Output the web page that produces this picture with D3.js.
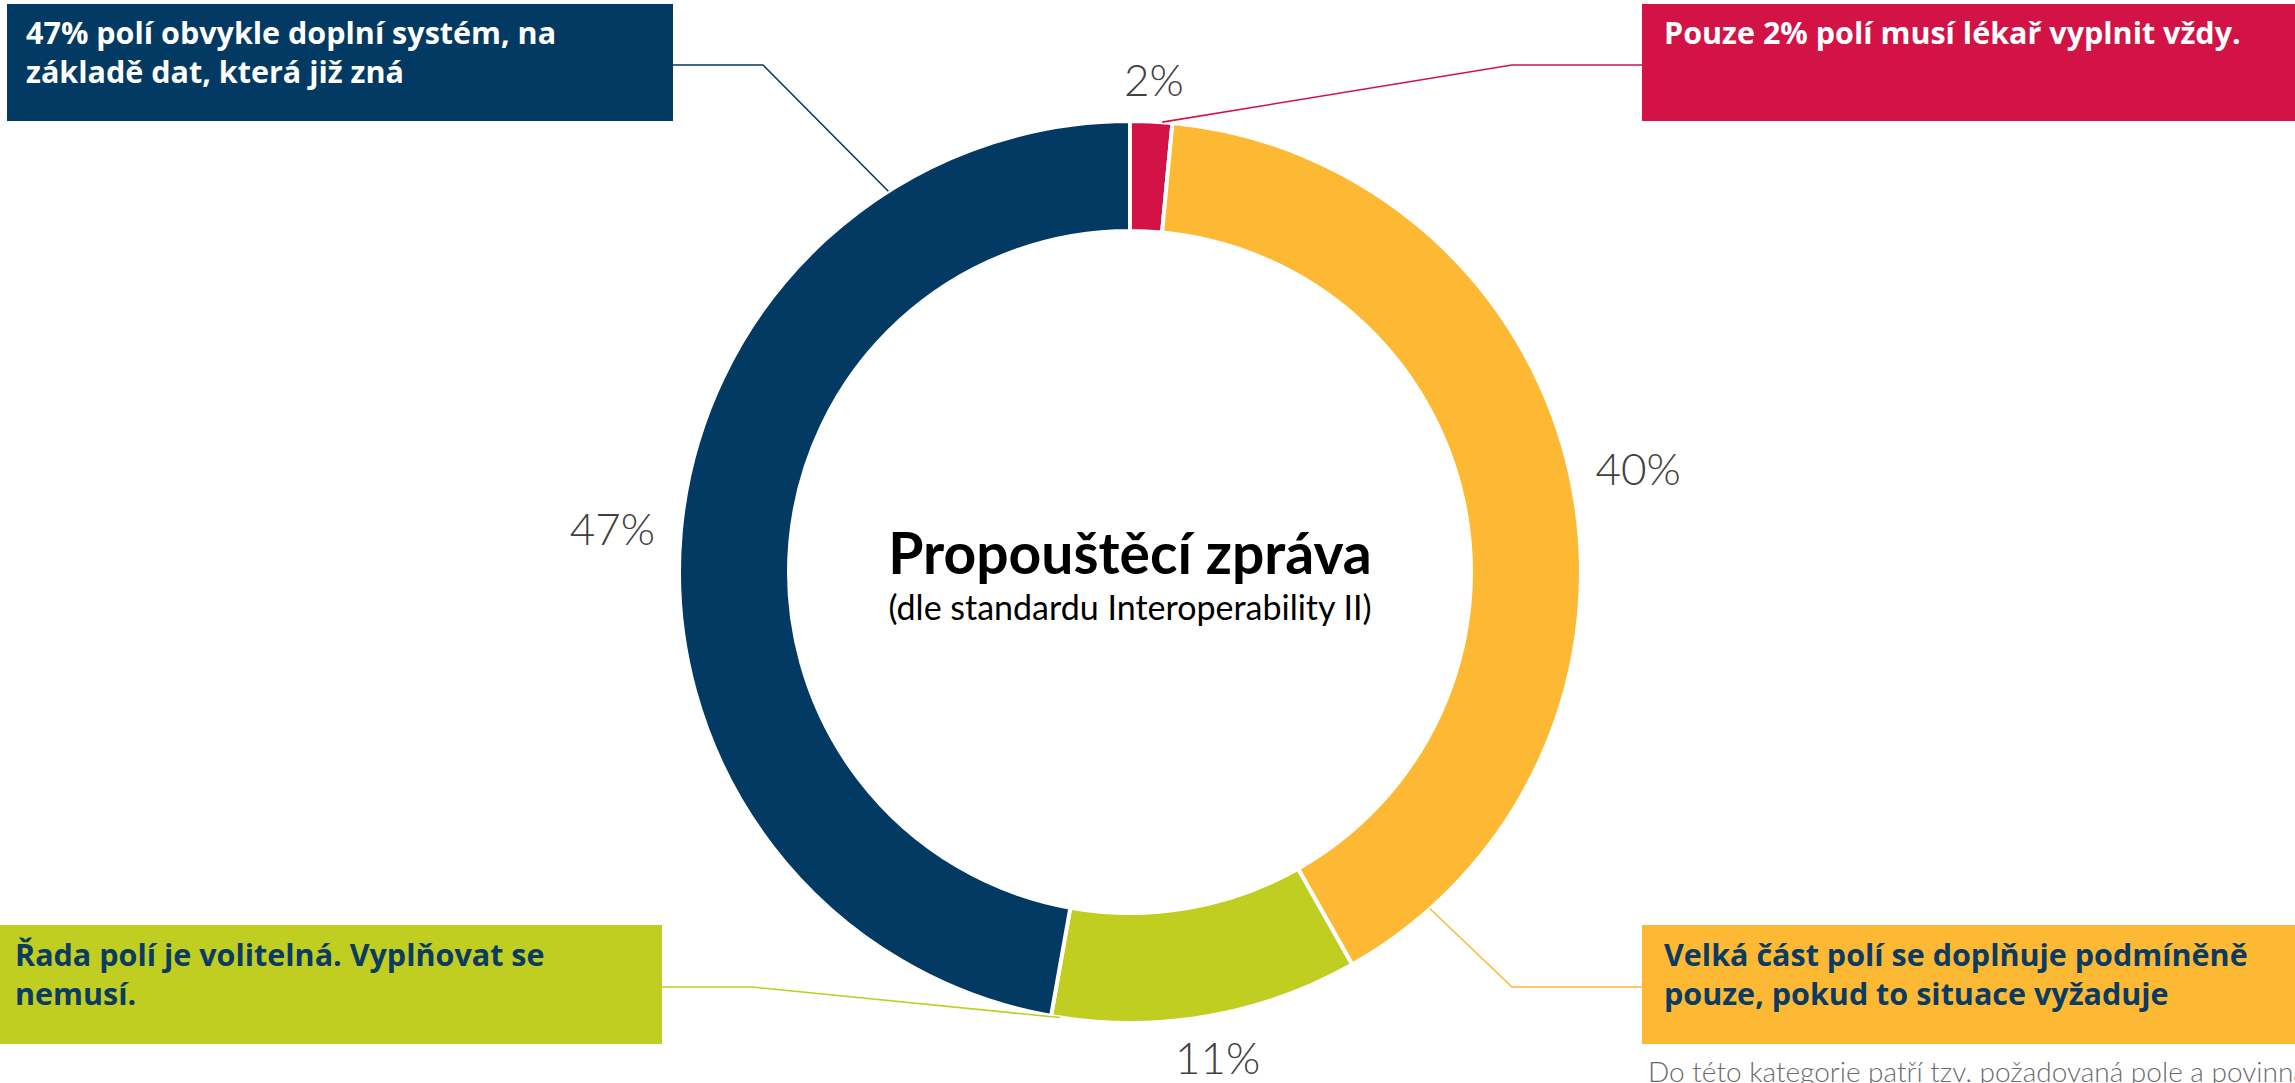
<!DOCTYPE html>
<html>
<head>
<meta charset="utf-8">
<script src="https://cdn.jsdelivr.net/npm/d3@7"></script>
<style>
    html, body { margin: 0; padding: 0; background: #fff; overflow: hidden; }
    svg { display: block; }
</style>
</head>
<body>
<div id="chart"></div>
<script>
// Data (clockwise from 12 o'clock)
const categories = ['vyplnit vždy', 'podmíněně', 'volitelná', 'doplní systém'];
const shares = [1.5, 40.3, 11.0, 47.2];
const percentLabels = ['2%', '40%', '11%', '47%'];
const sliceColors = ['#d31245', '#fdb933', '#c0ce21', '#033a63'];
const calloutTexts = [
    ['Pouze 2% polí musí lékař vyplnit vždy.'],
    ['Velká část polí se doplňuje podmíněně', 'pouze, pokud to situace vyžaduje'],
    ['Řada polí je volitelná. Vyplňovat se', 'nemusí.'],
    ['47% polí obvykle doplní systém, na', 'základě dat, která již zná']
];
const calloutTextColors = ['#ffffff', '#0b3a62', '#0b3a62', '#ffffff'];
const title = 'Propouštěcí zpráva';
const subtitle = '(dle standardu Interoperability II)';
const footnote = 'Do této kategorie patří tzv. požadovaná pole a povinná pole';

const width = 2295, height = 1083;
const cx = 1130, cy = 572;
const outerR = 451, innerR = 341;

// Callout boxes: box rect, leader line y, elbow x, anchor angle (deg) on the ring, text x, line centres
const callouts = [
    {box: [1642, 4, 653, 117], lineY: 65, elbowX: 1512, angle: 4.1, textX: 1664, lineYs: [32]},
    {box: [1642, 925, 653, 119], lineY: 987, elbowX: 1512, angle: 138.3, textX: 1664, lineYs: [954, 993]},
    {box: [0, 925, 662, 119], lineY: 987, elbowX: 752, angle: 188.9, textX: 15, lineYs: [954, 993]},
    {box: [7, 4, 666, 117], lineY: 65, elbowX: 763, angle: 327.6, textX: 26, lineYs: [32, 71]}
];

const data = categories.map((c, i) => ({
    name: c, value: shares[i], label: percentLabels[i], color: sliceColors[i],
    text: calloutTexts[i], textColor: calloutTextColors[i], callout: callouts[i]
}));

const svg = d3.select('#chart').append('svg')
    .attr('width', width)
    .attr('height', height);

const pie = d3.pie().sort(null).value(d => d.value);
const arc = d3.arc().innerRadius(innerR).outerRadius(outerR);
const arcs = pie(data);

const ring = svg.append('g').attr('transform', `translate(${cx},${cy})`);

ring.selectAll('path')
    .data(arcs)
    .enter().append('path')
    .attr('d', arc)
    .attr('fill', d => d.data.color)
    .attr('stroke', '#fff')
    .attr('stroke-width', 4)
    .attr('stroke-linejoin', 'miter');

// Percent labels outside the ring
const labelFont = 44;
const gap = 26;
ring.selectAll('.pct')
    .data(arcs)
    .enter().append('text')
    .attr('class', 'pct')
    .style('font-family', 'Lato, "Open Sans", sans-serif')
    .style('font-weight', 300)
    .style('font-size', labelFont + 'px')
    .attr('fill', '#404040')
    .attr('text-anchor', 'middle')
    .text(d => d.data.label)
    .each(function(d) {
        const a = (d.startAngle + d.endAngle) / 2;
        const w = this.getComputedTextLength();
        const h = labelFont * 0.72;
        const px = (outerR + gap) * Math.sin(a) + w / 2 * Math.sin(a);
        const py = -(outerR + gap) * Math.cos(a) - h / 2 * Math.cos(a);
        d3.select(this).attr('x', px).attr('y', py + h / 2);
    });

// Callout boxes and leader lines
const boxes = svg.append('g');
data.forEach(d => {
    const c = d.callout;
    const g = boxes.append('g');
    g.append('rect')
        .attr('x', c.box[0]).attr('y', c.box[1])
        .attr('width', c.box[2]).attr('height', c.box[3])
        .attr('fill', d.color);

    const a = c.angle * Math.PI / 180;
    const ax = cx + outerR * Math.sin(a);
    const ay = cy - outerR * Math.cos(a);
    const edgeX = c.box[0] > cx ? c.box[0] : c.box[0] + c.box[2];
    svg.append('polyline')
        .attr('points', `${edgeX},${c.lineY} ${c.elbowX},${c.lineY} ${ax},${ay}`)
        .attr('fill', 'none')
        .attr('stroke', d.color)
        .attr('stroke-width', 1.6);

    g.selectAll('text')
        .data(d.text)
        .enter().append('text')
        .attr('x', c.textX)
        .attr('y', (t, i) => c.lineYs[i])
        .attr('dominant-baseline', 'central')
        .style('font-family', '"Open Sans", Lato, sans-serif')
        .style('font-weight', 700)
        .style('font-size', '30.5px')
        .attr('fill', d.textColor)
        .text(t => t);
});

// Centre title
svg.append('text')
    .attr('x', cx)
    .attr('y', 552)
    .attr('text-anchor', 'middle')
    .attr('dominant-baseline', 'central')
    .style('font-family', 'Lato, "Open Sans", sans-serif')
    .style('font-weight', 700)
    .style('font-size', '57px')
    .attr('fill', '#000')
    .text(title);

svg.append('text')
    .attr('x', cx)
    .attr('y', 606)
    .attr('text-anchor', 'middle')
    .attr('dominant-baseline', 'central')
    .style('font-family', 'Lato, "Open Sans", sans-serif')
    .style('font-weight', 400)
    .style('font-size', '34px')
    .attr('fill', '#000')
    .text(subtitle);

// Footnote, cut off at the right/bottom edge like the source slide
svg.append('text')
    .attr('x', 1648)
    .attr('y', 1082)
    .style('font-family', 'Lato, "Open Sans", sans-serif')
    .style('font-weight', 300)
    .style('font-size', '28px')
    .attr('fill', '#6b6b6b')
    .text(footnote);
</script>
</body>
</html>
